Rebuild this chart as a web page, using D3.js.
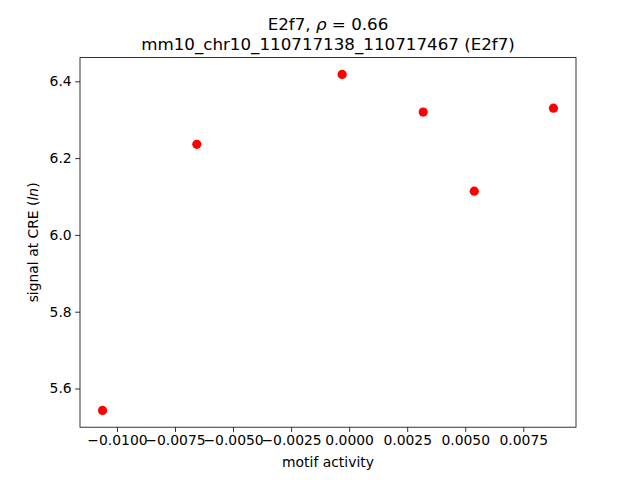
<!DOCTYPE html>
<html lang="en">
<head>
<meta charset="UTF-8">
<title>E2f7 motif activity</title>
<script src="https://d3js.org/d3.v7.min.js"></script>
<style>
  body { margin: 0; background: #fff; }
  text { font-family: "DejaVu Sans", sans-serif; fill: #000; }
</style>
</head>
<body>
<div id="chart"></div>
<script>
// values
var motifActivity = [-0.01062, -0.00656, -0.00030, 0.00319, 0.00539, 0.00880];
var creSignal = [5.543, 6.236, 6.418, 6.320, 6.114, 6.330];
var xTicks = [-0.01, -0.0075, -0.005, -0.0025, 0, 0.0025, 0.005, 0.0075];
var yTicks = [5.6, 5.8, 6.0, 6.2, 6.4];

var width = 640, height = 480;
var margin = { left: 80, right: 64, top: 57.6, bottom: 52.8 };

var svg = d3.select("#chart").append("svg")
    .attr("width", width)
    .attr("height", height);

// matplotlib style 5% padding around the data
function padded(vals) {
    var e = d3.extent(vals), m = (e[1] - e[0]) * 0.05;
    return [e[0] - m, e[1] + m];
}

var x = d3.scaleLinear().domain(padded(motifActivity))
    .range([margin.left, width - margin.right]);
var y = d3.scaleLinear().domain(padded(creSignal))
    .range([height - margin.bottom, margin.top]);

var fmtX = function(d) { return d3.format(".4f")(d).replace("-", "\u2212"); };
var fmtY = d3.format(".1f");

var xAxis = svg.append("g")
    .attr("transform", "translate(0," + (height - margin.bottom) + ")")
    .call(d3.axisBottom(x).tickValues(xTicks).tickFormat(fmtX)
        .tickSize(4.86).tickPadding(3.5).tickSizeOuter(0));
var yAxis = svg.append("g")
    .attr("transform", "translate(" + margin.left + ",0)")
    .call(d3.axisLeft(y).tickValues(yTicks).tickFormat(fmtY)
        .tickSize(4.86).tickPadding(3.5).tickSizeOuter(0));

[xAxis, yAxis].forEach(function(g) {
    g.select(".domain").remove();
    g.selectAll("line").attr("stroke", "#000").attr("stroke-width", 0.8);
    g.selectAll("text").attr("font-size", "13.9px")
        .style("font-family", "DejaVu Sans, sans-serif").attr("fill", "#000");
});

// frame
svg.append("rect")
    .attr("x", margin.left).attr("y", margin.top)
    .attr("width", width - margin.left - margin.right)
    .attr("height", height - margin.top - margin.bottom)
    .attr("fill", "none").attr("stroke", "#000").attr("stroke-width", 0.8);

svg.selectAll("circle.pt")
    .data(motifActivity)
    .enter().append("circle")
    .attr("class", "pt")
    .attr("cx", function(d) { return x(d); })
    .attr("cy", function(d, i) { return y(creSignal[i]); })
    .attr("r", 4.6)
    .attr("fill", "red");

// titles
var cx = (margin.left + width - margin.right) / 2;
var t1 = svg.append("text").attr("x", cx).attr("y", 30)
    .attr("text-anchor", "middle").attr("font-size", "16.7px");
t1.append("tspan").text("E2f7, ");
t1.append("tspan").attr("font-style", "italic").text("\u03c1");
t1.append("tspan").text(" = 0.66");
svg.append("text").attr("x", cx).attr("y", 49.5)
    .attr("text-anchor", "middle").attr("font-size", "16.7px")
    .text("mm10_chr10_110717138_110717467 (E2f7)");

svg.append("text").attr("x", cx).attr("y", 467)
    .attr("text-anchor", "middle").attr("font-size", "13.9px")
    .text("motif activity");

var yl = svg.append("text")
    .attr("transform", "translate(38," + ((margin.top + height - margin.bottom) / 2) + ") rotate(-90)")
    .attr("text-anchor", "middle").attr("font-size", "13.9px");
yl.append("tspan").text("signal at CRE (");
yl.append("tspan").attr("font-style", "italic").text("ln");
yl.append("tspan").text(")");
</script>
</body>
</html>
